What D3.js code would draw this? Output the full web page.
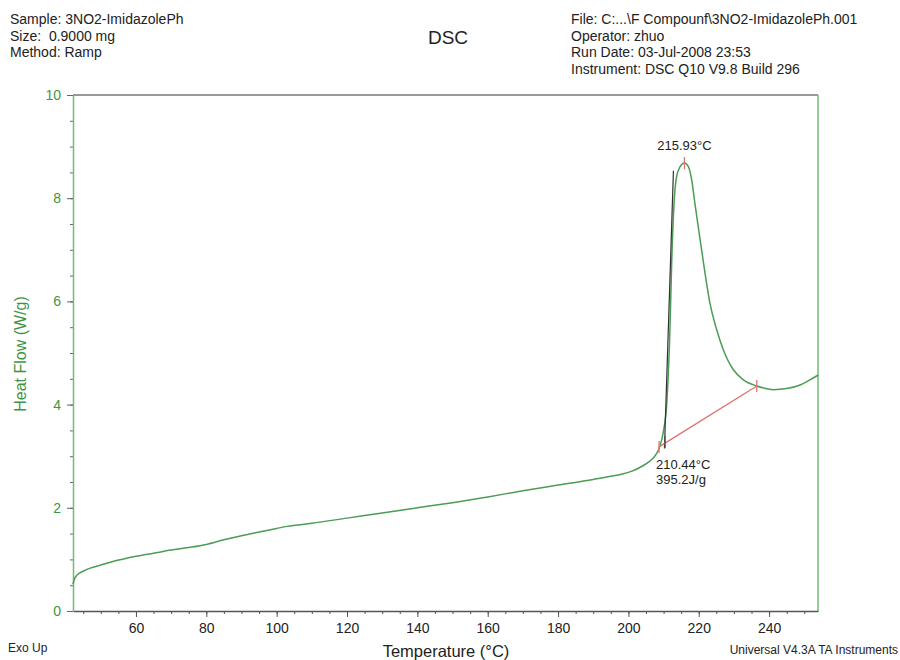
<!DOCTYPE html>
<html>
<head>
<meta charset="utf-8">
<script src="https://cdn.jsdelivr.net/npm/d3@7"></script>
<style>
  html, body { margin: 0; padding: 0; background: #fff; }
  svg { display: block; font-family: "Liberation Sans", Arial, sans-serif; }
</style>
</head>
<body>
<svg id="chart" width="900" height="660"></svg>
<script>
// DSC scan of 3NO2-ImidazolePh: temperature (°C) vs heat flow (W/g)
const temperature = [42.1, 42.5, 43.3, 45, 47, 50, 53, 56, 60, 65, 70, 75, 80, 85, 90, 95, 100, 103, 110, 120,
  130, 140, 150, 160, 170, 180, 190, 195, 198, 201, 204, 206, 208, 209, 210, 210.9, 211.8, 212.3, 212.97, 213.7,
  214.7, 215.93, 217.05, 218.0, 218.9, 220.4, 221.8, 223.2, 225.1, 227.0, 229.9, 232.7, 236.5, 238.5, 241.2,
  245.0, 248.8, 251.6, 253.9];
const heatFlow = [0.52, 0.62, 0.70, 0.77, 0.83, 0.89, 0.95, 1.00, 1.06, 1.12, 1.18, 1.23, 1.29, 1.38, 1.46, 1.53, 1.60, 1.64, 1.70, 1.80,
  1.90, 2.00, 2.10, 2.21, 2.33, 2.44, 2.55, 2.61, 2.65, 2.71, 2.81, 2.90, 3.05, 3.20, 3.50, 4.02, 5.45, 6.74, 7.90, 8.42,
  8.61, 8.68, 8.61, 8.35, 7.90, 7.19, 6.54, 5.96, 5.45, 5.06, 4.67, 4.48, 4.36, 4.32, 4.29,
  4.31, 4.38, 4.48, 4.57];

// Peak analysis: integration baseline, onset tangent, peak
const baselineT = [208.7, 236.5];
const baselineHF = [3.18, 4.36];
const tangentT = [210.25, 212.8];
const tangentHF = [3.15, 8.53];
const peakT = 215.93, peakHF = 8.68;
const onsetT = 210.44, onsetHF = 3.28;
const enthalpy = 395.2;

const xTicks = [60, 80, 100, 120, 140, 160, 180, 200, 220, 240];
const yTicks = [0, 2, 4, 6, 8, 10];

const headerLeft = ["Sample: 3NO2-ImidazolePh", "Size:  0.9000 mg", "Method: Ramp"];
const headerRight = ["File: C:...\\F Compounf\\3NO2-ImidazolePh.001", "Operator: zhuo",
  "Run Date: 03-Jul-2008 23:53", "Instrument: DSC Q10 V9.8 Build 296"];

const svg = d3.select("#chart");
const plotL = 73, plotR = 818, plotT = 95, plotB = 611;
const green = "#3f9444", curveGreen = "#4c9c56", axisGreen = "#72bd72";

const x = d3.scaleLinear().domain([42.1, 253.9]).range([plotL, plotR]);
const y = d3.scaleLinear().domain([0, 10]).range([plotB, plotT]);

// header text
svg.append("g").selectAll("text").data(headerLeft).join("text")
  .attr("x", 10).attr("y", (d, i) => 24 + i * 16.5)
  .attr("font-size", 14).attr("fill", "#222").style("white-space", "pre").text(d => d);
svg.append("g").selectAll("text").data(headerRight).join("text")
  .attr("x", 571).attr("y", (d, i) => 24 + i * 16.5)
  .attr("font-size", 14).attr("fill", "#222").text(d => d);
svg.append("text").attr("x", 448).attr("y", 44).attr("text-anchor", "middle")
  .attr("font-size", 19).attr("fill", "#222").text("DSC");

// frame: grey top, green right
svg.append("line").attr("x1", plotL).attr("x2", plotR).attr("y1", plotT).attr("y2", plotT)
  .attr("stroke", "#777").attr("stroke-width", 1.5);
svg.append("line").attr("x1", plotR).attr("x2", plotR).attr("y1", plotT).attr("y2", plotB)
  .attr("stroke", axisGreen).attr("stroke-width", 1.5);

// x axis: major + minor ticks
const xMinor = d3.range(45, 254, 5);
svg.append("g").attr("transform", `translate(0,${plotB})`)
  .call(d3.axisBottom(x).tickValues(xMinor).tickSize(3).tickFormat(""))
  .call(g => g.select(".domain").remove())
  .call(g => g.selectAll("line").attr("stroke", "#555"));
const xAxis = svg.append("g").attr("transform", `translate(0,${plotB})`)
  .call(d3.axisBottom(x).tickValues(xTicks).tickSize(6).tickSizeOuter(0).tickPadding(6).tickFormat(d3.format("d")));
xAxis.select(".domain").attr("stroke", "#555").attr("stroke-width", 1.5);
xAxis.selectAll("line").attr("stroke", "#555");
xAxis.selectAll("text").attr("font-size", 14).attr("fill", "#222")
  .attr("font-family", "Liberation Sans, Arial, sans-serif");

// y axis: major + minor ticks
const yMinor = d3.range(0.5, 10, 0.5);
svg.append("g").attr("transform", `translate(${plotL},0)`)
  .call(d3.axisLeft(y).tickValues(yMinor).tickSize(3).tickFormat(""))
  .call(g => g.select(".domain").remove())
  .call(g => g.selectAll("line").attr("stroke", "#666"));
const yAxis = svg.append("g").attr("transform", `translate(${plotL},0)`)
  .call(d3.axisLeft(y).tickValues(yTicks).tickSize(6).tickSizeOuter(0).tickPadding(6).tickFormat(d3.format("d")));
yAxis.select(".domain").attr("stroke", axisGreen).attr("stroke-width", 1.5);
yAxis.selectAll("line").attr("stroke", "#666");
yAxis.selectAll("text").attr("font-size", 14).attr("fill", green)
  .attr("font-family", "Liberation Sans, Arial, sans-serif");

// axis titles and footer
svg.append("text").attr("transform", `translate(26,354) rotate(-90)`).attr("text-anchor", "middle")
  .attr("font-size", 16).attr("fill", green).text("Heat Flow (W/g)");
svg.append("text").attr("x", 446).attr("y", 657).attr("text-anchor", "middle")
  .attr("font-size", 16.5).attr("fill", "#222").text("Temperature (°C)");
svg.append("text").attr("x", 8).attr("y", 652).attr("font-size", 12).attr("fill", "#222").text("Exo Up");
svg.append("text").attr("x", 898).attr("y", 654).attr("text-anchor", "end")
  .attr("font-size", 12).attr("fill", "#222").text("Universal V4.3A TA Instruments");

// heat-flow curve
const pts = temperature.map((t, i) => [t, heatFlow[i]]);
svg.append("path").datum(pts)
  .attr("d", d3.line().x(d => x(d[0])).y(d => y(d[1])).curve(d3.curveMonotoneX))
  .attr("fill", "none").attr("stroke", curveGreen).attr("stroke-width", 1.5);

// onset tangent
svg.append("line")
  .attr("x1", x(tangentT[0])).attr("y1", y(tangentHF[0]))
  .attr("x2", x(tangentT[1])).attr("y2", y(tangentHF[1]))
  .attr("stroke", "#333").attr("stroke-width", 1.2);

// integration baseline
const red = "#e0716d";
svg.append("line")
  .attr("x1", x(baselineT[0])).attr("y1", y(baselineHF[0]))
  .attr("x2", x(baselineT[1])).attr("y2", y(baselineHF[1]))
  .attr("stroke", red).attr("stroke-width", 1.3);

// analysis markers
const markers = [[baselineT[0], baselineHF[0], red], [baselineT[1], baselineHF[1], red],
  [onsetT, onsetHF, "#555"], [peakT, peakHF, red]];
svg.append("g").selectAll("line").data(markers).join("line")
  .attr("x1", d => x(d[0])).attr("x2", d => x(d[0]))
  .attr("y1", d => y(d[1]) - 6).attr("y2", d => y(d[1]) + 6)
  .attr("stroke", d => d[2]).attr("stroke-width", 1.3);

// annotations
svg.append("text").attr("x", x(peakT)).attr("y", y(peakHF) - 13).attr("text-anchor", "middle")
  .attr("font-size", 13).attr("fill", "#222").text(peakT.toFixed(2) + "°C");
svg.append("text").attr("x", 656).attr("y", 469)
  .attr("font-size", 13).attr("fill", "#222").text(onsetT.toFixed(2) + "°C");
svg.append("text").attr("x", 656).attr("y", 484)
  .attr("font-size", 13).attr("fill", "#222").text(enthalpy.toFixed(1) + "J/g");
</script>
</body>
</html>
